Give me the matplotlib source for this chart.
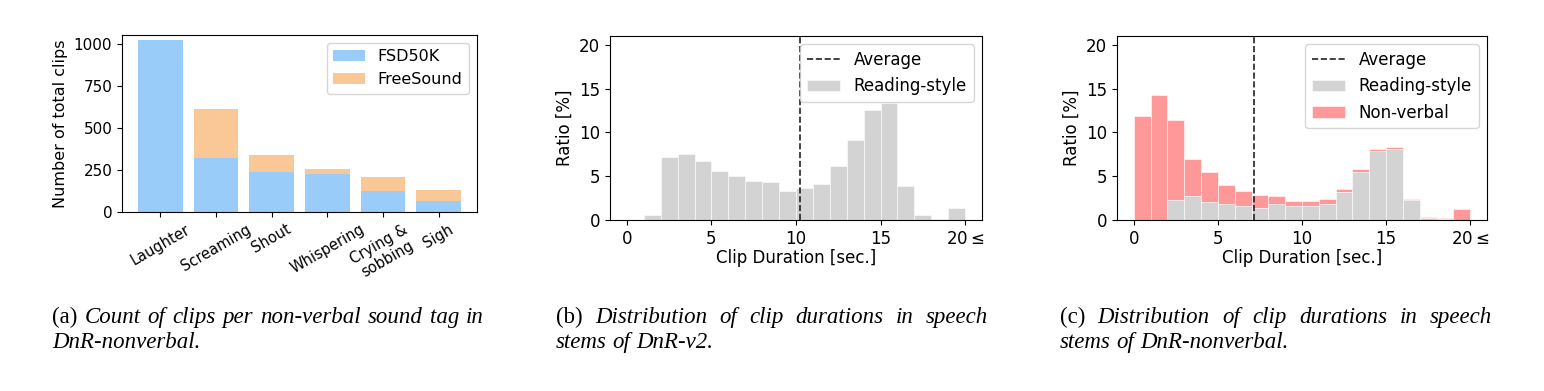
import matplotlib
matplotlib.use("Agg")
import matplotlib.pyplot as plt
import numpy as np

# (a) clips per non-verbal tag
tags = ["Laughter", "Screaming", "Shout", "Whispering", "Crying &\nsobbing", "Sigh"]
fsd50k = [1028, 323, 236, 228, 127, 64]
freesound = [0, 290, 101, 28, 83, 69]

# (b), (c) clip duration histograms, 1 s bins from 0 to 20 (last bin = 20 and more)
bin_starts = list(range(20))
reading_v2 = [0, 0.6, 7.2, 7.55, 6.7, 5.55, 5.05, 4.5, 4.35, 3.35,
              3.7, 4.15, 6.2, 9.15, 12.5, 13.35, 3.85, 0.55, 0.1, 1.4]
avg_v2 = 10.26
reading_nv = [0, 0, 2.3, 2.7, 2.0, 1.85, 1.62, 1.42, 1.82, 1.55,
              1.6, 1.8, 3.2, 5.5, 7.85, 8.1, 2.3, 0.25, 0.1, 0.0]
nonverbal = [11.85, 14.25, 9.15, 4.3, 3.45, 2.1, 1.73, 1.4, 0.88, 0.65,
             0.55, 0.55, 0.35, 0.35, 0.27, 0.2, 0.15, 0.1, 0.15, 1.25]
avg_nv = 7.13

xticks = [0, 5, 10, 15, 20]
xticklabels = ["0", "5", "10", "15", r"$20\leq$"]

captions = [
    ["(a)", "Count", "of", "clips", "per", "non-verbal", "sound", "tag", "in"],
    ["(b)", "Distribution", "of", "clip", "durations", "in", "speech"],
    ["(c)", "Distribution", "of", "clip", "durations", "in", "speech"],
]
captions2 = [
    ["DnR-nonverbal."],
    ["stems", "of", "DnR-v2."],
    ["stems", "of", "DnR-nonverbal."],
]

blue = "#99CCF8"
orange = "#F9C896"
gray = "#D3D3D3"
pink = "#FF9999"

W, H = 1544, 391
fig = plt.figure(figsize=(W / 100, H / 100), dpi=100)
fs_a = 11
fs = 12

# ---- (a)
ax = fig.add_axes([122 / W, 1 - 212 / H, 355 / W, 177 / H])
x = np.arange(len(tags))
ax.bar(x, fsd50k, width=0.8, color=blue, label="FSD50K")
ax.bar(x, freesound, width=0.8, bottom=fsd50k, color=orange, label="FreeSound")
ax.set_ylim(0, 1055)
ax.set_yticks([0, 250, 500, 750, 1000])
ax.set_xticks(x)
ax.set_xticklabels(tags, rotation=30, ha="center", fontsize=10.5)
ax.tick_params(axis="y", labelsize=fs_a)
ax.set_ylabel("Number of total clips", fontsize=fs_a + 0.5)
ax.legend(loc="upper right", fontsize=fs_a + 0.5)

# ---- (b)
ax = fig.add_axes([610 / W, 1 - 220 / H, 372 / W, 184 / H])
ax.bar(bin_starts, reading_v2, width=1, align="edge", color=gray,
       edgecolor="white", linewidth=0.4, label="Reading-style")
ax.axvline(avg_v2, color="#222222", linestyle="--", linewidth=1.2, label="Average")
ax.set_xlim(-1, 21)
ax.set_ylim(0, 21)
ax.set_yticks([0, 5, 10, 15, 20])
ax.set_xticks(xticks)
ax.set_xticklabels(xticklabels)
ax.tick_params(labelsize=fs)
ax.set_xlabel("Clip Duration [sec.]", fontsize=fs, labelpad=1)
ax.set_ylabel("Ratio [%]", fontsize=fs)
h, l = ax.get_legend_handles_labels()
hd = dict(zip(l, h))
ax.legend([hd["Average"], hd["Reading-style"]], ["Average", "Reading-style"],
          loc="upper right", fontsize=fs)

# ---- (c)
ax = fig.add_axes([1117 / W, 1 - 220 / H, 370 / W, 184 / H])
ax.bar(bin_starts, reading_nv, width=1, align="edge", color=gray,
       edgecolor="white", linewidth=0.4, label="Reading-style")
ax.bar(bin_starts, nonverbal, width=1, align="edge", bottom=reading_nv, color=pink,
       edgecolor="white", linewidth=0.4, label="Non-verbal")
ax.axvline(avg_nv, color="#222222", linestyle="--", linewidth=1.2, label="Average")
ax.set_xlim(-1, 21)
ax.set_ylim(0, 21)
ax.set_yticks([0, 5, 10, 15, 20])
ax.set_xticks(xticks)
ax.set_xticklabels(xticklabels)
ax.tick_params(labelsize=fs)
ax.set_xlabel("Clip Duration [sec.]", fontsize=fs, labelpad=1)
ax.set_ylabel("Ratio [%]", fontsize=fs)
h, l = ax.get_legend_handles_labels()
hd = dict(zip(l, h))
order = ["Average", "Reading-style", "Non-verbal"]
ax.legend([hd[k] for k in order], order, loc="upper right", fontsize=fs)

# ---- captions (justified first line, like the LaTeX subcaptions)
cap_fs = 16.5
renderer = fig.canvas.get_renderer()
col_x = [52, 556, 1060]
col_w = 432


def place_line(words, x0, y, justify):
    texts = []
    for i, w in enumerate(words):
        style = "normal" if (i == 0 and w.startswith("(")) else "italic"
        t = fig.text(0, 1 - y / H, w, fontsize=cap_fs, family="Liberation Serif",
                     style=style, va="baseline", ha="left")
        texts.append(t)
    widths = [t.get_window_extent(renderer).width for t in texts]
    if justify and len(texts) > 1:
        gap = (col_w - sum(widths)) / (len(texts) - 1)
    else:
        gap = 0.25 * cap_fs * 100 / 72
    xx = x0
    for t, w in zip(texts, widths):
        t.set_x(xx / W)
        xx += w + gap


for i in range(3):
    place_line(captions[i], col_x[i], 323, True)
    place_line(captions2[i], col_x[i], 348, False)

fig.savefig("out.png", dpi=100)
